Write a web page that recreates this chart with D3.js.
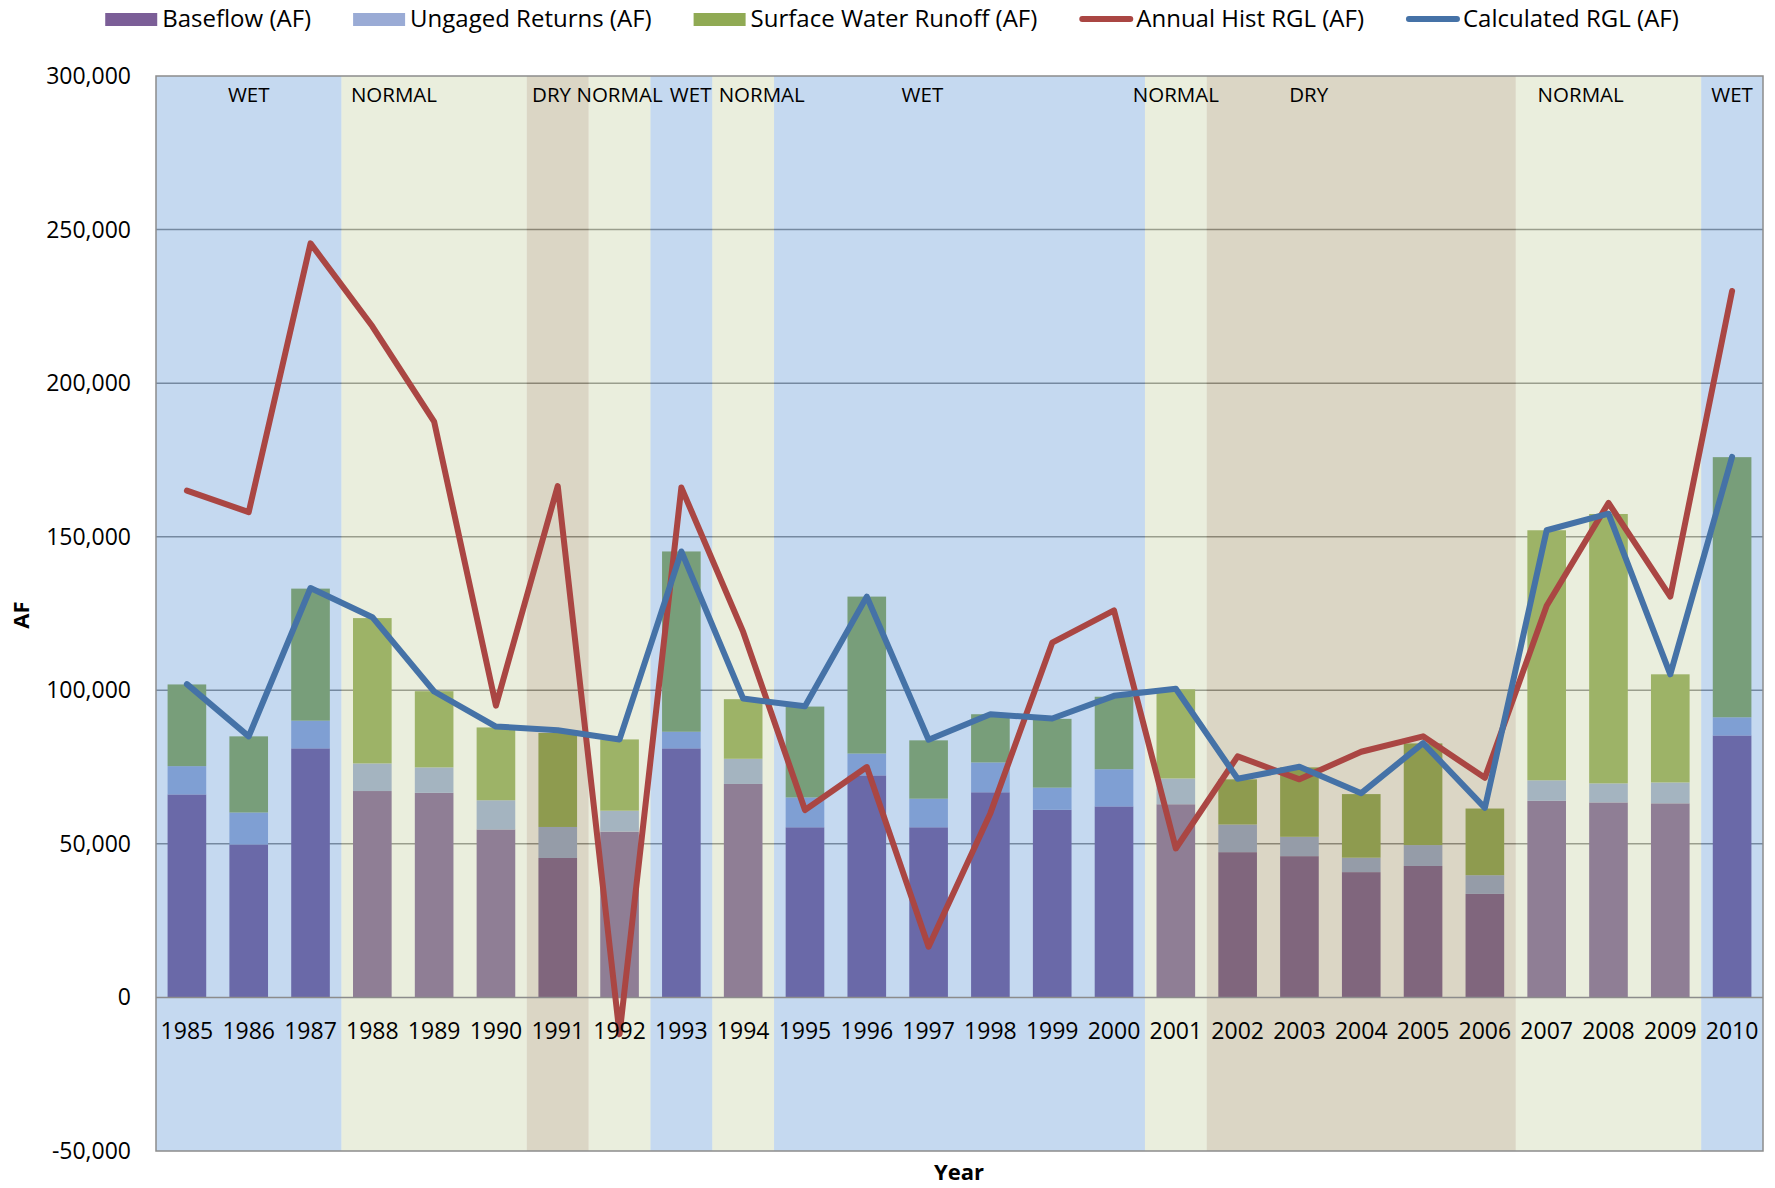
<!DOCTYPE html>
<html>
<head>
<meta charset="utf-8">
<script src="https://cdn.jsdelivr.net/npm/d3@7"></script>
<style>
  body { margin: 0; background: #fff; }
  text { font-family: "Open Sans", "Noto Sans", sans-serif; fill: #000; }
</style>
</head>
<body>
<svg id="chart" width="1775" height="1188"></svg>
<script>
'use strict';

// values (AF)
var years = ['1985', '1986', '1987', '1988', '1989', '1990', '1991', '1992', '1993', '1994', '1995', '1996', '1997',
  '1998', '1999', '2000', '2001', '2002', '2003', '2004', '2005', '2006', '2007', '2008', '2009', '2010'];

var baseflow = [66100, 49800, 81100, 67200, 66600, 54700, 45400, 54000, 81100, 69500, 55400, 72300, 55400,
  66800, 61100, 62200, 62900, 47300, 46000, 40800, 42800, 33700, 64000, 63500, 63200, 85300];
var ungaged = [9200, 10400, 9000, 9000, 8300, 9500, 10100, 6800, 5400, 8200, 9700, 7100, 9300,
  9700, 7200, 12100, 8400, 9000, 6300, 4700, 6800, 6100, 6700, 6200, 6800, 5900];
var runoff = [26600, 24800, 43000, 47300, 24800, 23700, 30600, 23200, 58700, 19400, 29600, 51100, 19000,
  15700, 22400, 23600, 29000, 14700, 22600, 20700, 33100, 21700, 81400, 87700, 35200, 84700];

var histRGL = [165000, 158000, 245500, 218500, 187500, 95000, 166500, -12000, 166000, 119000, 61000, 75000, 16500,
  60000, 115500, 126000, 48500, 78500, 71000, 80000, 85000, 71500, 127500, 161000, 130500, 230000];
var calcRGL = [102000, 85000, 133300, 123800, 99600, 88200, 87000, 84000, 145200, 97300, 94800, 130500, 83900,
  92200, 90800, 98200, 100500, 71200, 75100, 66500, 82800, 61700, 152100, 157500, 105200, 176000];

// hydrologic year types
var periodType = ['WET', 'NORMAL', 'DRY', 'NORMAL', 'WET', 'NORMAL', 'WET', 'NORMAL', 'DRY', 'NORMAL', 'WET'];
var periodFrom = ['1985', '1988', '1991', '1992', '1993', '1994', '1995', '2001', '2002', '2007', '2010'];
var periodTo = ['1987', '1990', '1991', '1992', '1993', '1994', '2000', '2001', '2006', '2009', '2010'];
var periodLabelAt = [1986, 1988.35, 1990.9, 1992, 1993.15, 1994.3, 1996.9, 2001, 2003.15, 2007.55, 2010];

var yTicks = [-50000, 0, 50000, 100000, 150000, 200000, 250000, 300000];

var colBase = '#7b5e97';
var colUngaged = '#9aabd5';
var colRunoff = '#90aa54';
var colHist = '#aa4643';
var colCalc = '#4572a7';
var periodColor = {WET: '#4484ce', NORMAL: '#bbc891', DRY: '#8b7b44'};

var margin = {top: 76, right: 12, bottom: 37, left: 156};
var width = 1775 - margin.left - margin.right;
var height = 1188 - margin.top - margin.bottom;

var svg = d3.select('#chart');
var g = svg.append('g').attr('transform', 'translate(' + margin.left + ',' + margin.top + ')');

var x = d3.scaleBand().domain(years).range([0, width]).paddingInner(0.375).paddingOuter(0.1875);
var xLin = d3.scaleLinear().domain([1985, 2010])
  .range([x('1985') + x.bandwidth() / 2, x('2010') + x.bandwidth() / 2]);
var y = d3.scaleLinear().domain([-50000, 300000]).range([height, 0]);
var step = x.step();
var fmt = d3.formatLocale({decimal: '.', thousands: ',', grouping: [3], currency: ['$', ''], minus: '-'}).format(',');

g.append('rect').attr('width', width).attr('height', height).attr('fill', '#fff');

// gridlines
g.selectAll('.grid').data(yTicks.filter(function (d) { return d > 0 && d < 300000; }))
  .enter().append('line')
  .attr('x1', 0).attr('x2', width)
  .attr('y1', function (d) { return y(d); }).attr('y2', function (d) { return y(d); })
  .attr('stroke', '#8c8c8c').attr('stroke-width', 1.5);

// stacked bars
var rows = years.map(function (yr, i) {
  return {year: yr, baseflow: baseflow[i], ungaged: ungaged[i], runoff: runoff[i]};
});
var keys = ['baseflow', 'ungaged', 'runoff'];
var keyColor = {baseflow: colBase, ungaged: colUngaged, runoff: colRunoff};
var stacked = d3.stack().keys(keys)(rows);

g.selectAll('.layer').data(stacked).enter().append('g')
  .attr('fill', function (s) { return keyColor[s.key]; })
  .selectAll('rect').data(function (s) { return s; })
  .enter().append('rect')
  .attr('x', function (d) { return x(d.data.year); })
  .attr('width', x.bandwidth())
  .attr('y', function (d) { return y(d[1]); })
  .attr('height', function (d) { return y(d[0]) - y(d[1]); });

// period shading laid over the bars
var periods = periodType.map(function (t, i) {
  return {type: t, from: periodFrom[i], to: periodTo[i], labelAt: periodLabelAt[i]};
});
g.selectAll('.period').data(periods).enter().append('rect')
  .attr('x', function (p) { return x(p.from) - (step - x.bandwidth()) / 2; })
  .attr('width', function (p) { return x(p.to) - x(p.from) + step; })
  .attr('y', 0).attr('height', height)
  .attr('fill', function (p) { return periodColor[p.type]; })
  .attr('opacity', 0.31);

// frame and zero line
g.append('rect').attr('width', width).attr('height', height)
  .attr('fill', 'none').attr('stroke', '#8c8c8c').attr('stroke-width', 1.5);
g.append('line').attr('x1', 0).attr('x2', width).attr('y1', y(0)).attr('y2', y(0))
  .attr('stroke', '#8c8c8c').attr('stroke-width', 1.5);

// lines
function drawLine(values, color) {
  var line = d3.line()
    .x(function (d, i) { return x(years[i]) + x.bandwidth() / 2; })
    .y(function (d) { return y(d); });
  g.append('path').datum(values)
    .attr('d', line)
    .attr('fill', 'none')
    .attr('stroke', color)
    .attr('stroke-width', 6)
    .attr('stroke-linejoin', 'round')
    .attr('stroke-linecap', 'round');
}
drawLine(histRGL, colHist);
drawLine(calcRGL, colCalc);

// period labels
g.selectAll('.plabel').data(periods).enter().append('text')
  .attr('x', function (p) { return xLin(p.labelAt); })
  .attr('y', 95 - margin.top)
  .attr('dy', '0.35em')
  .attr('text-anchor', 'middle')
  .style('font-size', '20.5px')
  .text(function (p) { return p.type; });

// year labels (inside plot, below zero)
g.selectAll('.ylabel').data(years).enter().append('text')
  .attr('x', function (d) { return x(d) + x.bandwidth() / 2; })
  .attr('y', y(0) + 34)
  .attr('dy', '0.35em')
  .attr('text-anchor', 'middle')
  .style('font-size', '23px')
  .text(function (d) { return d; });

// y ticks
g.selectAll('.tick').data(yTicks).enter().append('text')
  .attr('x', -25)
  .attr('y', function (d) { return y(d); })
  .attr('dy', '0.35em')
  .attr('text-anchor', 'end')
  .style('font-size', '23px')
  .text(function (d) { return fmt(d); });

// axis titles
svg.append('text')
  .attr('transform', 'translate(21,615) rotate(-90)')
  .attr('text-anchor', 'middle')
  .attr('dy', '0.35em')
  .style('font-size', '22px').style('font-weight', 'bold')
  .text('AF');
svg.append('text')
  .attr('x', 959).attr('y', 1172)
  .attr('text-anchor', 'middle')
  .attr('dy', '0.35em')
  .style('font-size', '22px').style('font-weight', 'bold')
  .text('Year');

// legend
var legendItems = [
  {name: 'Baseflow (AF)', color: colBase, kind: 'box'},
  {name: 'Ungaged Returns (AF)', color: colUngaged, kind: 'box'},
  {name: 'Surface Water Runoff (AF)', color: colRunoff, kind: 'box'},
  {name: 'Annual Hist RGL (AF)', color: colHist, kind: 'line'},
  {name: 'Calculated RGL (AF)', color: colCalc, kind: 'line'}
];
var legend = svg.append('g');
var cursor = 0;
legendItems.forEach(function (item) {
  var it = legend.append('g').attr('transform', 'translate(' + cursor + ',0)');
  if (item.kind === 'box') {
    it.append('rect').attr('x', 0).attr('y', -6).attr('width', 52).attr('height', 13).attr('fill', item.color);
  } else {
    it.append('line').attr('x1', 3).attr('x2', 51).attr('y1', 0).attr('y2', 0)
      .attr('stroke', item.color).attr('stroke-width', 6).attr('stroke-linecap', 'round');
  }
  var t = it.append('text').attr('x', 57).attr('y', 0).attr('dy', '0.35em')
    .style('font-size', '24px').text(item.name);
  cursor += 57 + t.node().getComputedTextLength() + 42;
});
var legendWidth = cursor - 42;
legend.attr('transform', 'translate(' + (892 - legendWidth / 2) + ',19)');
</script>
</body>
</html>
